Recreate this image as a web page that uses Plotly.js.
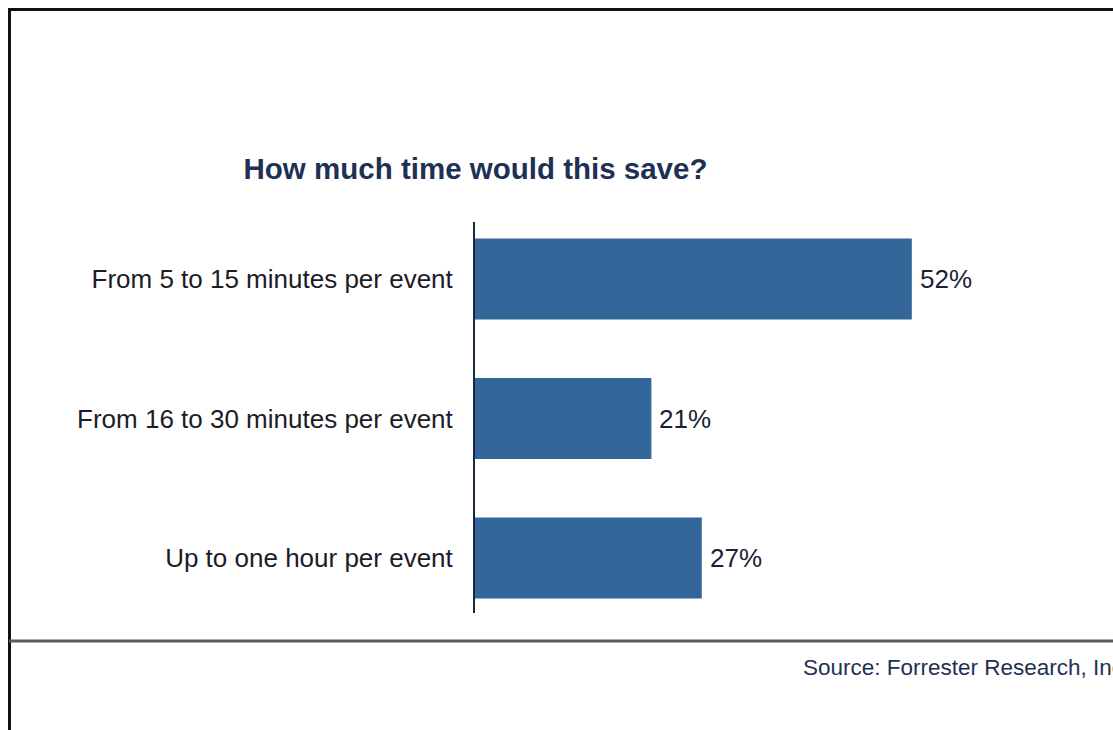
<!DOCTYPE html>
<html>
<head>
<meta charset="utf-8">
<script src="https://cdn.plot.ly/plotly-3.0.1.min.js"></script>
<style>
html,body{margin:0;padding:0;background:#fff;}
#chart{width:1113px;height:730px;}
</style>
</head>
<body>
<div id="chart"></div>
<script>
var categories = ["From 5 to 15 minutes per event", "From 16 to 30 minutes per event", "Up to one hour per event"];
var values = [52, 21, 27];
var valueLabels = ["52%", "21%", "27%"];
var titleText = "How much time would this save?";
var sourceText = "Source: Forrester Research, Inc.";

var W = 1113, H = 730;
var L = 475, R = 979, T = 222, B = 613;
function px(x){ return (x - L) / (R - L); }
function py(y){ return (B - y) / (B - T); }

var FONT = "Liberation Sans, Arial, sans-serif";

var trace = {
  type: "bar",
  orientation: "h",
  y: categories,
  x: values,
  marker: {color: "#336699", line: {width: 0}},
  width: 0.58,
  hoverinfo: "none"
};

var valueAnnotations = values.map(function(v, i){
  return {
    xref: "x", yref: "y", x: v, y: categories[i],
    xanchor: "left", yanchor: "middle", xshift: 6,
    text: valueLabels[i], showarrow: false,
    font: {family: FONT, size: 26, color: "#1c2236"}
  };
});

var layout = {
  width: W, height: H,
  margin: {l: L, r: W - R, t: T, b: H - B, pad: 0},
  paper_bgcolor: "#ffffff",
  plot_bgcolor: "#ffffff",
  showlegend: false,
  font: {family: FONT, color: "#1c1c28"},
  title: {
    text: "<b>" + titleText + "</b>",
    font: {family: FONT, size: 29.5, color: "#1f3153"},
    x: px(475.5), xref: "paper", xanchor: "center",
    y: 1 - 169 / H, yref: "container", yanchor: "middle"
  },
  xaxis: {
    range: [0, 60],
    showgrid: false, zeroline: false, showline: false,
    showticklabels: false, ticks: "", fixedrange: true
  },
  yaxis: {
    type: "category",
    range: [2.394, -0.409],
    autorange: false,
    showgrid: false, zeroline: false,
    showline: true, linecolor: "#1a2740", linewidth: 2,
    ticks: "outside", ticklen: 15, tickcolor: "rgba(0,0,0,0)",
    tickfont: {family: FONT, size: 26, color: "#1c1c28"},
    fixedrange: true
  },
  shapes: [
    {type: "line", xref: "paper", yref: "paper", x0: px(9), x1: px(W + 5), y0: py(9.5), y1: py(9.5), line: {color: "#111111", width: 3}},
    {type: "line", xref: "paper", yref: "paper", x0: px(9.5), x1: px(9.5), y0: py(8), y1: py(H + 5), line: {color: "#111111", width: 3}},
    {type: "line", xref: "paper", yref: "paper", x0: px(9), x1: px(W + 5), y0: py(641), y1: py(641), line: {color: "#5a5a5a", width: 3}}
  ],
  annotations: valueAnnotations.concat([
    {xref: "paper", yref: "paper", x: px(801), y: py(667), xanchor: "left", yanchor: "middle",
     text: sourceText, showarrow: false,
     font: {family: FONT, size: 22.5, color: "#1f3153"}}
  ])
};

Plotly.newPlot("chart", [trace], layout, {displayModeBar: false, staticPlot: true});
</script>
</body>
</html>
